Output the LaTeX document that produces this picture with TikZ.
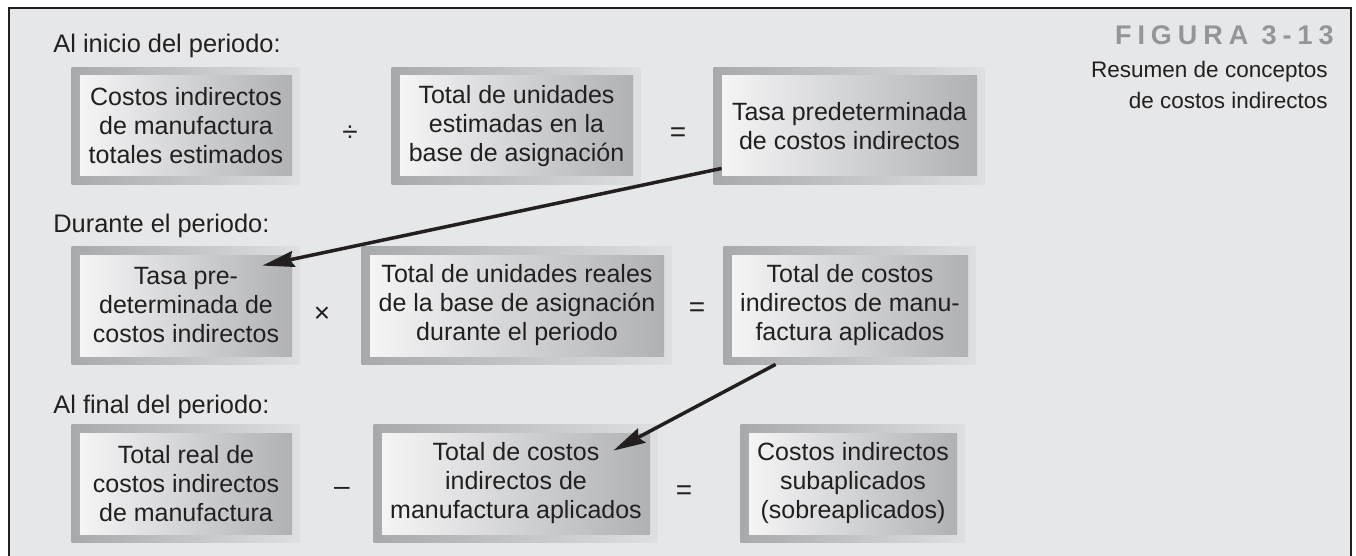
\documentclass[tikz,border=0pt]{standalone}
\usepackage{fontspec}
\setmainfont{Liberation Sans}
\usetikzlibrary{calc}
\usetikzlibrary{backgrounds}
\usetikzlibrary{arrows.meta}

\definecolor{fondo}{HTML}{E6E7E8}
\definecolor{tinta}{HTML}{231F20}
\definecolor{marcoosc}{HTML}{A7A9AC}
\definecolor{marcoclaro}{HTML}{DEDFE0}
\definecolor{cajaclara}{HTML}{F5F5F6}
\definecolor{cajaosc}{HTML}{AFB1B4}
\definecolor{rotulo}{HTML}{939598}

\tikzset{
  caja/.style={inner sep=0pt, align=center, text=tinta,
    left color=cajaclara, right color=cajaosc,
    font=\fontsize{12.5}{14.5}\selectfont},
  marco/.style={left color=marcoosc, right color=marcoclaro},
  signo/.style={anchor=base, inner sep=0pt, text=tinta, font=\fontsize{14}{14.5}\selectfont},
  etapa/.style={anchor=base west, inner sep=0pt, text=tinta, font=\fontsize{12.7}{14.5}\selectfont},
  flecha/.style={line width=1.75pt, draw=tinta, -{Stealth[length=16pt,width=8pt,inset=2pt]}},
}

\begin{document}
\begin{tikzpicture}[x=0.5pt,y=-0.5pt]
            \useasboundingbox (0,0) rectangle (1356,556);

            % Row 1: al inicio del periodo
            \node[etapa] (inicio) at (53,53) {Al inicio del periodo:};
            \node[caja, minimum width=106pt, minimum height=50pt] (c11) at (186,126) {Costos indirectos\\de manufactura\\totales estimados};
            \node[signo] (div1) at (350,141) {÷};
            \node[caja, minimum width=116.5pt, minimum height=50pt] (c12) at (516.5,126) {Total de unidades\\estimadas en la\\base de asignación};
            \node[signo] (eq1) at (678,141) {=};
            \node[caja, minimum width=127.5pt, minimum height=50pt] (c13) at (849.5,126) {Tasa predeterminada\\de costos indirectos};

            % Row 2: durante el periodo
            \node[etapa] (durante) at (53,233) {Durante el periodo:};
            \node[caja, minimum width=106pt, minimum height=50.5pt] (c21) at (186,305.5) {Tasa pre-\\determinada de\\costos indirectos};
            \node[signo] (por2) at (322,322) {×};
            \node[caja, minimum width=147pt, minimum height=50.5pt] (c22) at (517,305.5) {Total de unidades reales\\de la base de asignación\\durante el periodo};
            \node[signo] (eq2) at (697,316) {=};
            \node[caja, minimum width=118pt, minimum height=50.5pt] (c23) at (850,305.5) {Total de costos\\indirectos de manu-\\factura aplicados};

            % Row 3: al final del periodo
            \node[etapa] (final) at (53,413) {Al final del periodo:};
            \node[caja, minimum width=106pt, minimum height=50.5pt] (c31) at (186,483.5) {Total real de\\costos indirectos\\de manufactura};
            \node[signo] (menos3) at (342,495) {–};
            \node[caja, minimum width=134pt, minimum height=50.5pt] (c32) at (516,483.5) {Total de costos\\indirectos de\\manufactura aplicados};
            \node[signo] (eq3) at (684,499) {=};
            \node[caja, minimum width=104pt, minimum height=50.5pt] (c33) at (853,483.5) {Costos indirectos\\subaplicados\\(sobreaplicados)};

            % Figure caption
            \node[anchor=base east, inner sep=0pt, text=rotulo,
              font=\fontsize{13.5}{15}\selectfont\bfseries\addfontfeatures{LetterSpace=22}] (figura) at (1334,45) {FIGURA 3-13};
            \node[anchor=north east, inner sep=0pt, align=right, text=tinta,
              font=\fontsize{11.25}{15.25}\selectfont] (resumen) at (1328,61) {Resumen de conceptos\\de costos indirectos};

            % Panel and bevel frames behind the boxes
            \begin{scope}[on background layer]
              \fill[fondo] (9,8) rectangle (1351,556);
              \foreach \c in {c11,c12,c13,c21,c22,c23,c31,c32,c33}
                \shade[marco] ($(\c.north west)+(-8,-8)$) rectangle ($(\c.south east)+(7,8)$);
            \end{scope}
            \draw[line width=1.25pt, tinta] (9,556) -- (9,8) -- (1351,8) -- (1351,556);

            % Arrows
            \draw[flecha] ($(c13.south west)+(0,-8)$) -- ($(c21.north east)+(-30,11)$);
            \draw[flecha] ($(c23.south west)+(44,8)$) -- ($(c32.north east)+(-37,18)$);
\end{tikzpicture}
\end{document}
